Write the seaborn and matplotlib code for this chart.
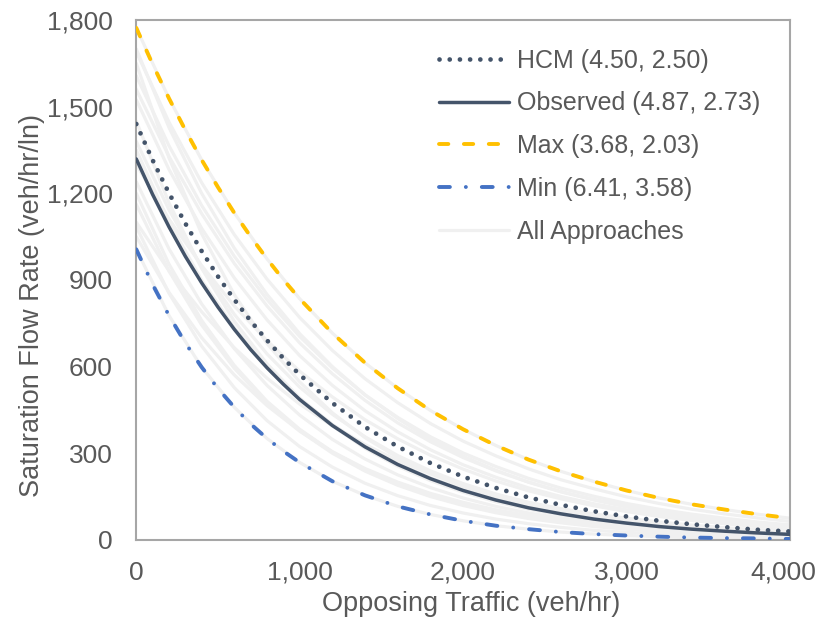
import seaborn as sns
import matplotlib
matplotlib.use('Agg')
import matplotlib.pyplot as plt
import matplotlib.ticker as mticker
import matplotlib.transforms as mtransforms
import numpy as np
import pandas as pd

sns.set_theme(style='white')
plt.rcParams['font.family'] = ['Liberation Sans', 'DejaVu Sans']

# opposing traffic (veh/hr) for the highlighted curves
x_main = [0, 100, 200, 300, 400, 500, 600, 700, 800, 900, 1000, 1200, 1400,
          1600, 1800, 2000, 2200, 2400, 2600, 2800, 3000, 3200, 3400, 3600, 3800, 4000]
hcm = [1440, 1315, 1201, 1096, 1000, 912, 832, 758, 691, 629, 572, 474, 391,
       323, 266, 219, 180, 147, 121, 99, 81, 66, 54, 44, 35, 29]
observed = [1319, 1196, 1084, 982, 890, 806, 729, 659, 596, 539, 486, 396, 322,
            261, 212, 171, 138, 111, 90, 72, 58, 46, 37, 30, 24, 19]
max_curve = [1773, 1647, 1529, 1419, 1316, 1221, 1132, 1050, 973, 901, 835, 716, 613,
             525, 448, 383, 327, 278, 237, 202, 171, 145, 123, 105, 89, 75]
min_curve = [1006, 884, 777, 682, 598, 524, 459, 401, 351, 307, 268, 203, 154,
             116, 88, 66, 49, 37, 27, 20, 15, 11, 8, 6, 5, 3]

# individual approaches (grey)
x_grey = [0, 200, 400, 600, 800, 1000, 1200, 1400, 1600, 1800, 2000,
          2200, 2400, 2600, 2800, 3000, 3200, 3400, 3600, 3800, 4000]
approaches = [
    [1773, 1529, 1316, 1132, 973, 835, 716, 613, 525, 448, 383, 327, 278, 237, 202, 171, 145, 123, 105, 89, 75],
    [1006, 777, 598, 459, 351, 268, 203, 154, 116, 88, 66, 49, 37, 27, 20, 15, 11, 8, 6, 5, 3],
    [1084, 854, 671, 527, 413, 323, 252, 196, 153, 119, 93, 72, 56, 43, 33, 26, 20, 16, 12, 10, 7],
    [1162, 931, 744, 594, 474, 377, 300, 238, 189, 150, 119, 94, 74, 59, 46, 37, 29, 23, 18, 15, 11],
    [1240, 1008, 817, 662, 535, 432, 348, 280, 225, 181, 145, 116, 93, 75, 59, 48, 38, 30, 24, 20, 15],
    [1380, 1143, 945, 781, 644, 529, 435, 357, 292, 239, 195, 159, 129, 106, 86, 70, 56, 46, 37, 30, 24],
    [1524, 1283, 1079, 907, 762, 638, 535, 447, 374, 312, 260, 217, 180, 150, 125, 104, 86, 72, 60, 49, 41],
    [1607, 1365, 1158, 982, 832, 704, 595, 502, 424, 357, 301, 254, 213, 179, 151, 126, 106, 89, 75, 62, 52],
    [1690, 1447, 1237, 1057, 903, 770, 656, 558, 475, 403, 342, 291, 246, 208, 177, 149, 126, 106, 90, 76, 64],
    [1650, 1323, 1060, 849, 680, 547, 440, 354, 285, 230, 185, 149, 120, 97, 78, 62, 50, 41, 33, 26, 21],
    [1100, 932, 790, 665, 560, 470, 395, 330, 275, 229, 190, 157, 130, 108, 90, 75, 62, 51, 42, 35, 29],
    [1300, 1111, 950, 810, 690, 584, 495, 416, 350, 293, 245, 204, 170, 142, 118, 98, 81, 67, 56, 46, 38],
    [1450, 1167, 940, 757, 610, 491, 395, 317, 255, 205, 165, 132, 106, 85, 68, 55, 44, 35, 28, 22, 18],
    [1200, 955, 760, 604, 480, 383, 305, 244, 195, 156, 125, 100, 80, 64, 51, 41, 33, 26, 21, 17, 13],
    [1560, 1328, 1130, 957, 810, 682, 575, 483, 405, 340, 285, 239, 200, 167, 140, 117, 97, 81, 67, 56, 46],
    [1350, 1102, 900, 735, 600, 490, 400, 326, 265, 215, 175, 142, 116, 95, 77, 63, 51, 42, 34, 27, 22],
    [1700, 1428, 1200, 1010, 850, 714, 600, 502, 420, 349, 290, 241, 200, 166, 138, 114, 95, 79, 65, 53, 44],
    [1050, 857, 700, 571, 465, 377, 305, 247, 200, 161, 130, 104, 84, 67, 54, 43, 35, 28, 23, 19, 15],
]

grey_df = pd.DataFrame({
    'x': np.tile(x_grey, len(approaches)),
    'y': np.concatenate(approaches),
    'approach': np.repeat(np.arange(len(approaches)), len(x_grey)),
})

text_col = '#595959'
axis_col = '#a6a6a6'

fig = plt.figure(figsize=(8.21, 6.27), dpi=100)
ax = fig.add_axes([0.166, 0.139, 0.796, 0.829])

sns.lineplot(data=grey_df, x='x', y='y', units='approach', estimator=None,
             color='#f0f0f0', linewidth=2.3, ax=ax, label='All Approaches', zorder=1)

l_hcm, = ax.plot(x_main, hcm, color='#44546a', linewidth=3.4,
                 linestyle=(0, (0.01, 2.15)), dash_capstyle='round', zorder=3)
l_obs, = ax.plot(x_main, observed, color='#44546a', linewidth=2.5, zorder=3)
l_max, = ax.plot(x_main, max_curve, color='#ffc000', linewidth=2.8,
                 linestyle=(0, (2.4, 4.0)), dash_capstyle='round', zorder=3)
l_min, = ax.plot(x_main, min_curve, color='#4472c4', linewidth=2.8,
                 linestyle=(0, (2.8, 4.1, 0.01, 4.1)), dash_capstyle='round', zorder=3)

ax.set_xlim(0, 4000)
ax.set_ylim(0, 1800)
ax.set_xticks([0, 1000, 2000, 3000, 4000])
ax.set_yticks([0, 300, 600, 900, 1200, 1500, 1800])
fmt = mticker.StrMethodFormatter('{x:,.0f}')
ax.xaxis.set_major_formatter(fmt)
ax.yaxis.set_major_formatter(fmt)
ax.tick_params(axis='both', direction='in', length=6, width=1.2, color=axis_col,
               labelsize=19, labelcolor=text_col)
ax.tick_params(axis='y', pad=17)
ax.tick_params(axis='x', pad=15)
for s in ax.spines.values():
    s.set_color(axis_col)
    s.set_linewidth(1.5)

# last x label sits a little to the left, as in the original
fig.canvas.draw()
last = ax.get_xticklabels()[-1]
last.set_transform(last.get_transform() + mtransforms.ScaledTranslation(-6 / 100, 0, fig.dpi_scale_trans))

ax.set_xlabel('Opposing Traffic (veh/hr)', fontsize=19.5, color=text_col, va='center')
ax.set_ylabel('Saturation Flow Rate (veh/hr/ln)', fontsize=19.5, color=text_col, va='center')
ax.xaxis.set_label_coords(0.512, -0.123)
ax.yaxis.set_label_coords(-0.16, 0.45)

handles, labels = ax.get_legend_handles_labels()
grey_handle = handles[labels.index('All Approaches')]
leg = ax.legend([l_hcm, l_obs, l_max, l_min, grey_handle],
                ['HCM (4.50, 2.50)', 'Observed (4.87, 2.73)', 'Max (3.68, 2.03)',
                 'Min (6.41, 3.58)', 'All Approaches'],
                loc='upper left', bbox_to_anchor=(0.463, 0.945), borderaxespad=0,
                borderpad=0, frameon=False, fontsize=18, handlelength=2.8,
                handletextpad=0.32, labelspacing=0.75)
for t in leg.get_texts():
    t.set_color(text_col)

fig.savefig('out.png', dpi=100)
